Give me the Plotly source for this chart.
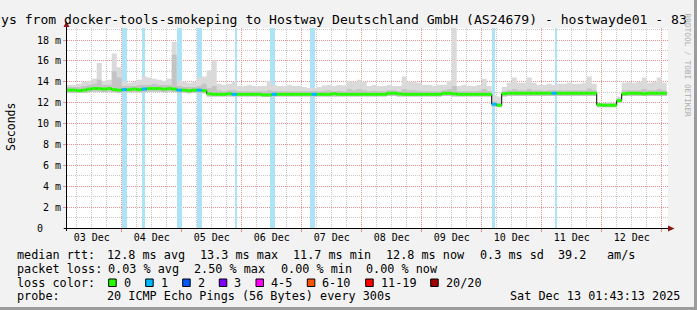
import plotly.graph_objects as go
import pandas as pd

# ---------------- data ----------------
sample_start = "2025-12-03 02:00"
sample_hours = 2

median_ms = [
    13.2, 13.2, 13.15, 13.2, 13.3, 13.35, 13.35, 13.3, 13.35, 13.25,
    13.2, 13.25, 13.25, 13.3, 13.25, 13.3, 13.35, 13.35, 13.35, 13.3,
    13.35, 13.3, 13.2, 13.2, 13.15, 13.2, 13.2, 13.15, 12.85, 12.8,
    12.8, 12.8, 12.85, 12.8, 12.8, 12.8, 12.8, 12.8, 12.8, 12.75,
    12.75, 12.8, 12.8, 12.8, 12.8, 12.8, 12.8, 12.8, 12.8, 12.8,
    12.8, 12.8, 12.8, 12.85, 12.8, 12.8, 12.8, 12.8, 12.8, 12.8,
    12.8, 12.8, 12.8, 12.8, 12.9, 12.9, 12.85, 12.8, 12.8, 12.8,
    12.8, 12.8, 12.8, 12.8, 12.8, 12.9, 12.9, 12.85, 12.8, 12.8,
    12.8, 12.8, 12.8, 12.8, 12.8, 11.85, 11.75, 12.85, 12.9, 12.9,
    12.9, 12.9, 12.9, 12.9, 12.9, 12.9, 12.9, 12.9, 12.9, 12.9,
    12.9, 12.9, 12.9, 12.9, 12.9, 12.9, 11.8, 11.75, 11.75, 11.75,
    12.2, 12.85, 12.9, 12.9, 12.9, 12.85, 12.9, 12.9, 12.9, 12.9,
    12.9,
]

loss_count = [
    0, 0, 0, 0, 0, 0, 0, 0, 0, 0,
    0, 1, 0, 0, 0, 1, 0, 0, 0, 0,
    0, 0, 1, 0, 0, 0, 1, 0, 0, 0,
    0, 0, 0, 1, 0, 0, 0, 0, 0, 0,
    0, 1, 0, 0, 0, 0, 0, 0, 0, 1,
    0, 0, 0, 0, 0, 0, 0, 0, 0, 0,
    0, 0, 0, 0, 0, 0, 0, 0, 0, 0,
    0, 0, 0, 0, 0, 0, 0, 0, 0, 0,
    0, 0, 0, 0, 0, 1, 0, 0, 0, 0,
    0, 0, 0, 0, 0, 0, 0, 1, 0, 0,
    0, 0, 0, 0, 0, 0, 0, 0, 0, 0,
    0, 0, 0, 0, 0, 0, 0, 0, 0, 0,
    0,
]

smoke_hi = [
    13.7, 13.7, 13.8, 14.0, 14.1, 14.3, 15.8, 14.1, 14.2, 16.7,
    15.4, 14.0, 13.9, 14.0, 14.2, 14.5, 14.4, 14.3, 14.2, 14.1,
    14.3, 17.8, 14.1, 14.0, 13.9, 14.0, 14.4, 14.5, 15.1, 16.1,
    13.8, 13.7, 13.8, 14.0, 13.6, 13.6, 13.7, 13.6, 13.6, 13.6,
    14.1, 13.7, 13.6, 13.6, 13.7, 13.6, 13.6, 13.5, 13.4, 13.4,
    13.5, 13.65, 13.7, 13.6, 13.7, 13.65, 14.1, 14.0, 14.2, 14.0,
    13.6, 13.7, 13.6, 13.6, 13.7, 13.6, 13.6, 14.5, 14.0, 14.0,
    13.9, 13.7, 13.7, 13.6, 13.7, 13.7, 14.1, 19.5, 13.6, 13.7,
    13.6, 13.6, 13.7, 14.3, 13.6, 12.7, 12.6, 13.5, 13.9, 14.4,
    13.9, 13.9, 14.4, 13.9, 13.7, 13.7, 13.8, 13.7, 13.8, 13.8,
    13.9, 13.8, 13.8, 13.9, 14.5, 13.8, 12.0, 12.0, 12.1, 12.0,
    12.6, 13.9, 13.95, 13.9, 14.0, 14.4, 13.9, 14.0, 14.4, 13.9,
    13.9,
]

smoke_mid = [
    13.5, 13.5, 13.5, 13.6, 13.7, 13.8, 14.2, 13.7, 13.7, 15.0,
    14.4, 13.6, 13.6, 13.6, 13.7, 13.7, 13.7, 13.8, 13.7, 13.7,
    13.7, 16.6, 13.6, 13.5, 13.5, 13.5, 13.6, 13.8, 13.4, 13.6,
    13.2, 13.1, 13.2, 13.2, 13.1, 13.1, 13.1, 13.1, 13.1, 13.1,
    13.2, 13.1, 13.1, 13.1, 13.1, 13.1, 13.1, 13.1, 13.1, 13.1,
    13.1, 13.15, 13.2, 13.1, 13.15, 13.1, 13.3, 13.2, 13.3, 13.2,
    13.1, 13.15, 13.1, 13.1, 13.2, 13.2, 13.1, 13.3, 13.2, 13.2,
    13.15, 13.1, 13.1, 13.1, 13.1, 13.2, 13.3, 13.6, 13.1, 13.1,
    13.1, 13.1, 13.15, 13.3, 13.1, 12.1, 12.0, 13.1, 13.2, 13.3,
    13.2, 13.2, 13.3, 13.2, 13.2, 13.15, 13.2, 13.2, 13.2, 13.2,
    13.2, 13.2, 13.2, 13.2, 13.35, 13.2, 11.95, 11.95, 11.95, 11.95,
    12.4, 13.2, 13.2, 13.2, 13.2, 13.3, 13.2, 13.2, 13.3, 13.2,
    13.2,
]

smoke_lo = [
    12.95, 12.95, 12.95, 12.95, 13.0, 13.05, 13.05, 13.0, 13.05, 13.0,
    12.95, 13.0, 13.0, 13.0, 13.0, 13.0, 13.05, 13.05, 13.05, 13.0,
    13.05, 13.0, 12.95, 12.95, 12.9, 12.95, 12.95, 12.9, 12.6, 12.6,
    12.6, 12.6, 12.6, 12.6, 12.6, 12.6, 12.6, 12.6, 12.6, 12.55,
    12.55, 12.6, 12.6, 12.6, 12.6, 12.6, 12.6, 12.6, 12.6, 12.6,
    12.6, 12.6, 12.6, 12.6, 12.6, 12.6, 12.6, 12.6, 12.6, 12.6,
    12.6, 12.6, 12.6, 12.6, 12.65, 12.65, 12.6, 12.6, 12.6, 12.6,
    12.6, 12.6, 12.6, 12.6, 12.6, 12.65, 12.65, 12.6, 12.6, 12.6,
    12.6, 12.6, 12.6, 12.6, 12.6, 11.6, 11.55, 12.6, 12.65, 12.65,
    12.65, 12.65, 12.65, 12.65, 12.65, 12.65, 12.65, 12.65, 12.65, 12.65,
    12.65, 12.65, 12.65, 12.65, 12.65, 12.65, 11.55, 11.55, 11.55, 11.55,
    12.0, 12.65, 12.65, 12.65, 12.65, 12.65, 12.65, 12.65, 12.65, 12.65,
    12.65,
]

# periods with packet loss (background bars)
loss_event_start = ["2025-12-03 23:55", "2025-12-04 07:55", "2025-12-04 21:55",
                    "2025-12-05 05:55", "2025-12-05 21:10", "2025-12-06 11:10",
                    "2025-12-07 03:10", "2025-12-10 03:55", "2025-12-11 05:10"]
loss_event_end = ["2025-12-04 02:05", "2025-12-04 09:10", "2025-12-04 23:55",
                  "2025-12-05 07:55", "2025-12-05 22:05", "2025-12-06 13:10",
                  "2025-12-07 05:10", "2025-12-10 05:30", "2025-12-11 06:05"]

loss_levels = [0, 1, 2, 3, 5, 10, 19, 20]
loss_labels = ["0", "1", "2", "3", "4-5", "6-10", "11-19", "20/20"]
loss_colors = ["#26ff00", "#00b8ff", "#0059ff", "#7e00ff", "#ff00ff", "#ff5500", "#ff0000", "#a10000"]

y_tick_vals = [0, 2, 4, 6, 8, 10, 12, 14, 16, 18]
y_tick_text = ["0\u00a0\u00a0\u00a0"] + [f"{v}\u00a0m" for v in y_tick_vals[1:]]

stats_rtt = ["12.8 ms avg", "13.3 ms max", "11.7 ms min", "12.8 ms now", "0.3 ms sd", "39.2", "am/s"]
stats_loss = ["0.03 % avg", "2.50 % max", "0.00 % min", "0.00 % now"]
probe_text = "20 ICMP Echo Pings (56 Bytes) every 300s"
stamp_text = "Sat Dec 13 01:43:13 2025"
title_text = "ys from docker-tools-smokeping to Hostway Deutschland GmbH (AS24679) - hostwayde01 - 83"

# ---------------- layout helpers ----------------
W, H = 697, 310
PL, PR, PT, PB = 67, 668, 28, 228
Y_MAX = 19.15
X_RANGE = ["2025-12-03 02:07", "2025-12-13 02:31"]
MONO = "DejaVu Sans Mono"
GRID_GREY = "#c8c8c8"
GRID_RED = "#e89090"
BAND = "#ade3f7"
ARROW = "#881818"


def px(x):
    return (x - PL) / (PR - PL)


def py(y):
    return (PB - y) / (PB - PT)


times = pd.date_range(sample_start, periods=len(median_ms), freq=f"{sample_hours}h")

fig = go.Figure()

# loss background bands
starts = pd.to_datetime(loss_event_start)
ends = pd.to_datetime(loss_event_end)
fig.add_trace(go.Bar(
    x=starts, width=[(e - s).total_seconds() * 1000 for s, e in zip(starts, ends)],
    offset=0, base=0, y=[Y_MAX] * len(starts),
    marker=dict(color=BAND, line=dict(width=0)), hoverinfo="skip",
))

# smoke
fig.add_trace(go.Scatter(x=times, y=smoke_lo, mode="lines", line=dict(width=0, shape="hv"), hoverinfo="skip"))
fig.add_trace(go.Scatter(x=times, y=smoke_hi, mode="lines", line=dict(width=0, shape="hv"),
                         fill="tonexty", fillcolor="#dadada", hoverinfo="skip"))
fig.add_trace(go.Scatter(x=times, y=smoke_lo, mode="lines", line=dict(width=0, shape="hv"), hoverinfo="skip"))
fig.add_trace(go.Scatter(x=times, y=smoke_mid, mode="lines", line=dict(width=0, shape="hv"),
                         fill="tonexty", fillcolor="#c4c4c4", hoverinfo="skip"))

# median black line
fig.add_trace(go.Scatter(x=times, y=median_ms, mode="lines", line=dict(width=1, color="#000000", shape="hv"),
                         hoverinfo="skip"))


def loss_bin(n):
    for k, lv in enumerate(loss_levels):
        if n <= lv:
            return k
    return len(loss_levels) - 1


segs = {}
for i in range(len(median_ms) - 1):
    k = loss_bin(loss_count[i])
    xs, ys = segs.setdefault(k, ([], []))
    xs += [times[i], times[i + 1], None]
    ys += [median_ms[i], median_ms[i], None]
for k, (xs, ys) in segs.items():
    fig.add_trace(go.Scatter(x=xs, y=ys, mode="lines", line=dict(width=3, color=loss_colors[k]),
                             connectgaps=False, hoverinfo="skip"))

shapes = []
# axis lines and arrows
shapes.append(dict(type="line", xref="paper", yref="paper", x0=px(66.5), x1=px(66.5), y0=py(231), y1=py(26),
                   line=dict(color="#000000", width=1)))
shapes.append(dict(type="line", xref="paper", yref="paper", x0=px(64), x1=px(668), y0=py(228.5), y1=py(228.5),
                   line=dict(color="#000000", width=1)))
shapes.append(dict(type="path", xref="paper", yref="paper",
                   path=f"M {px(63.5)},{py(27)} L {px(69.5)},{py(27)} L {px(66.5)},{py(21)} Z",
                   fillcolor=ARROW, line=dict(width=0)))
shapes.append(dict(type="path", xref="paper", yref="paper",
                   path=f"M {px(668)},{py(225.5)} L {px(668)},{py(231.5)} L {px(674.5)},{py(228.5)} Z",
                   fillcolor=ARROW, line=dict(width=0)))
# frame shade
shapes.append(dict(type="rect", xref="paper", yref="paper", x0=px(694), x1=px(698), y0=py(-1), y1=py(311),
                   fillcolor="#9c9c9c", line=dict(width=0)))
shapes.append(dict(type="rect", xref="paper", yref="paper", x0=px(-1), x1=px(698), y0=py(307), y1=py(311),
                   fillcolor="#9c9c9c", line=dict(width=0)))

annotations = []


def text(x, y, s, size=11.8, anchor="left", color="#000000", angle=0, yanchor="middle"):
    annotations.append(dict(x=px(x), y=py(y), xref="paper", yref="paper", text=s.replace(" ", "\u00a0"),
                            showarrow=False, xanchor=anchor, yanchor=yanchor, borderpad=0,
                            textangle=angle, font=dict(family=MONO, size=size, color=color)))


text(-0.5, 19.5, title_text, size=13.1)
text(11, 127, "Seconds", size=11.5, anchor="center", angle=-90)
text(687.5, 65, "RRDTOOL / TOBI OETIKER", size=7.8, anchor="center", angle=90, color="#aaaaaa")

ROW = [255, 268.5, 282.5, 296]
text(15.5, ROW[0], "median rtt:")
for xx, s in zip([105.5, 199, 291.8, 385, 479.3, 557, 606], stats_rtt):
    text(xx, ROW[0], s)
text(15.5, ROW[1], "packet loss:")
for xx, s in zip([106.6, 193.0, 279.5, 365.3], stats_loss):
    text(xx, ROW[1], s)
text(15.5, ROW[2], "loss color:")
for bx, lab, col in zip([108.7, 145.7, 182.7, 219.3, 256, 307.3, 365.7, 430.7], loss_labels, loss_colors):
    shapes.append(dict(type="rect", xref="paper", yref="paper", x0=px(bx), x1=px(bx + 7.5),
                       y0=py(286.5), y1=py(279), fillcolor=col, line=dict(color="#000000", width=1)))
    text(bx + 13.8, ROW[2], lab)
text(15.5, ROW[3], "probe:")
text(106, ROW[3], probe_text)
text(681, ROW[3], stamp_text, anchor="right")

fig.update_layout(
    width=W, height=H, margin=dict(l=PL, r=W - PR, t=PT, b=H - PB, pad=0),
    paper_bgcolor="#f2f2f2", plot_bgcolor="#ffffff", showlegend=False,
    barmode="overlay", bargap=0,
    font=dict(family=MONO, size=10, color="#000000"),
    shapes=shapes, annotations=annotations,
)
fig.update_xaxes(
    type="date", range=X_RANGE, tick0="2025-12-03 00:00", dtick=86400000,
    ticklabelmode="period", tickformat="%d %b", ticklabelstandoff=-3,
    showgrid=True, gridcolor=GRID_RED, griddash="1px,1px", gridwidth=1,
    ticks="outside", ticklen=3, tickcolor=GRID_RED, tickfont=dict(family=MONO, size=10),
    minor=dict(tick0="2025-12-03 00:00", dtick=21600000, showgrid=True, gridcolor=GRID_GREY,
               griddash="1px,1px", ticks=""),
    showline=False, zeroline=False, fixedrange=True,
)
fig.update_yaxes(
    range=[0, Y_MAX], tickmode="array", tickvals=y_tick_vals, ticktext=y_tick_text,
    showgrid=True, gridcolor=GRID_RED, griddash="1px,1px", gridwidth=1,
    ticks="outside", ticklen=3, tickcolor=GRID_RED, tickfont=dict(family=MONO, size=10),
    minor=dict(tickmode="linear", tick0=0, dtick=1, showgrid=True, gridcolor=GRID_GREY, griddash="1px,1px"),
    showline=False, zeroline=False, fixedrange=True,
)

fig.write_html("out.html")
